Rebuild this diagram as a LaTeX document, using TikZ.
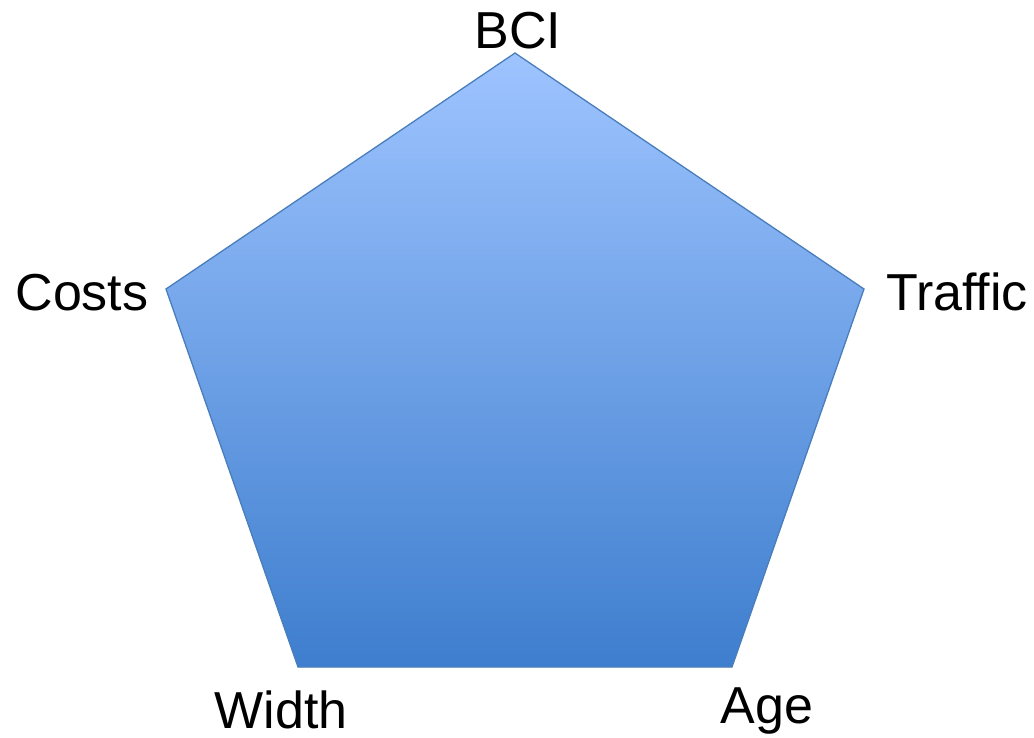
\documentclass[tikz,border=0pt]{standalone}
\usepackage{fontspec}
\setmainfont{Liberation Sans}
\begin{document}
\begin{tikzpicture}[x=1pt,y=-1pt,
  lbl/.style={font=\fontsize{52}{60}\selectfont, anchor=base, inner sep=0pt, text=black},
  pent/.style={draw=pentedge, line width=1.3pt, top color=penttop, bottom color=pentbot}]
\definecolor{penttop}{RGB}{158,196,255}
\definecolor{pentbot}{RGB}{62,126,206}
\definecolor{pentedge}{RGB}{74,126,187}
\useasboundingbox (0,0) rectangle (1034,737);
\coordinate (T) at (515,53);
\coordinate (R) at (864,289);
\coordinate (BR) at (732,667);
\coordinate (BL) at (298,667);
\coordinate (L) at (166,289);
% soft shadow
\foreach \d/\o in {1/0.12,2/0.10,3/0.08,4/0.06,5/0.05,6/0.03}{
  \fill[black, opacity=\o, shift={(-\d*0.8,\d*0.9)}] (T) -- (R) -- (BR) -- (BL) -- (L) -- cycle;
}
\path[pent] (T) -- (R) -- (BR) -- (BL) -- (L) -- cycle;
\node[lbl] (bci) at (518,48) {BCI};
\node[lbl] (costs) at (82,310) {Costs};
\node[lbl] (traffic) at (957,310) {Traffic};
\node[lbl] (width) at (281,728) {Width};
\node[lbl] (age) at (767,723) {Age};
\end{tikzpicture}
\end{document}
